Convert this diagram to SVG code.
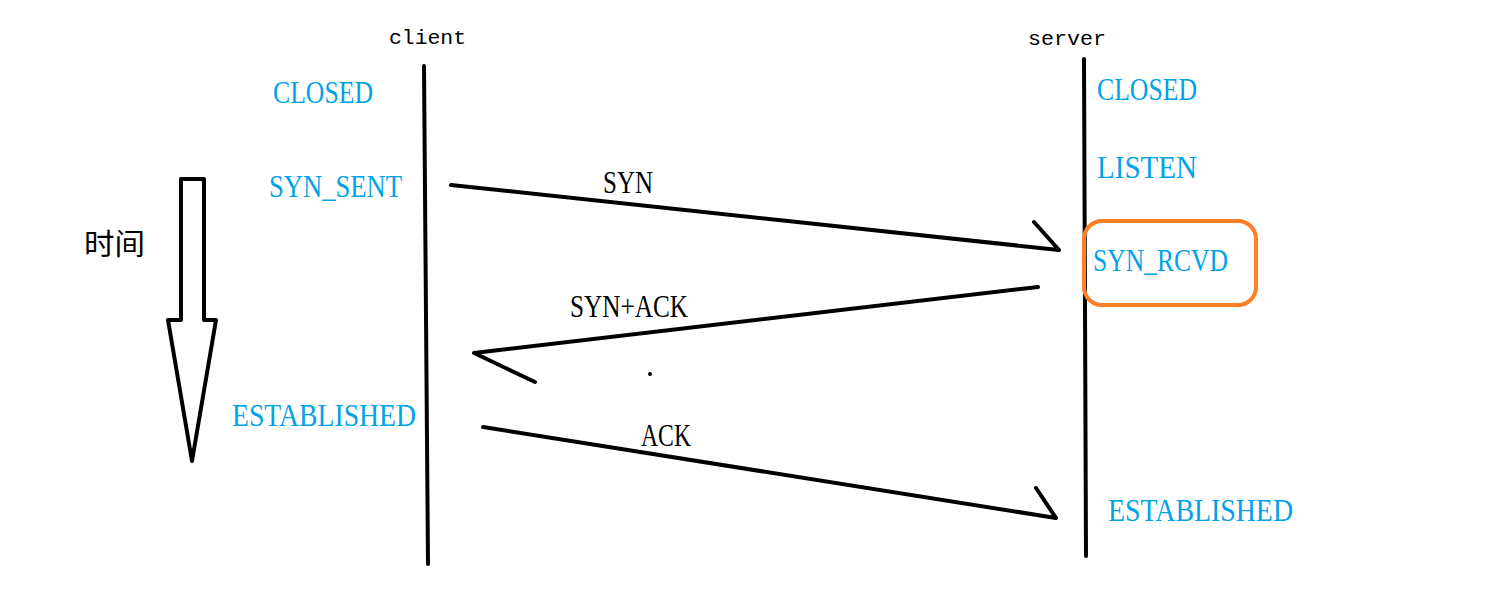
<svg xmlns="http://www.w3.org/2000/svg" width="1505" height="589" viewBox="0 0 1505 589">
<style>
.state{font-family:"Liberation Serif","DejaVu Serif",serif;font-size:31px;fill:#00a2e8}
.lbl{font-family:"Liberation Serif","DejaVu Serif",serif;font-size:31px;fill:#000}
.host{font-family:"Liberation Mono","DejaVu Sans Mono",monospace;font-size:20px;fill:#000}
.ln{stroke:#000;stroke-width:4;fill:none;stroke-linecap:round;stroke-linejoin:round}
</style>
<rect width="1505" height="589" fill="#fff"/>
<g id="client">
<text class="host" x="389" y="44" textLength="77" lengthAdjust="spacingAndGlyphs">client</text>
<line class="ln" x1="424" y1="66" x2="428" y2="564"/>
</g>
<g id="server">
<text class="host" x="1028" y="45" textLength="78" lengthAdjust="spacingAndGlyphs">server</text>
<line class="ln" x1="1084" y1="59" x2="1086" y2="556"/>
</g>
<g id="client-states">
<text class="state" x="273" y="103" textLength="100" lengthAdjust="spacingAndGlyphs">CLOSED</text>
<text class="state" x="269" y="197" textLength="133" lengthAdjust="spacingAndGlyphs">SYN_SENT</text>
<text class="state" x="232" y="426" textLength="184" lengthAdjust="spacingAndGlyphs">ESTABLISHED</text>
</g>
<g id="server-states">
<text class="state" x="1097" y="100" textLength="100" lengthAdjust="spacingAndGlyphs">CLOSED</text>
<text class="state" x="1097" y="178" textLength="100" lengthAdjust="spacingAndGlyphs">LISTEN</text>
<text class="state" x="1108" y="521" textLength="185" lengthAdjust="spacingAndGlyphs">ESTABLISHED</text>
</g>
<g id="syn-rcvd">
<rect x="1084" y="221" width="172" height="84" rx="18" fill="none" stroke="#ff7f27" stroke-width="4"/>
<text class="state" x="1093" y="271" textLength="135" lengthAdjust="spacingAndGlyphs">SYN_RCVD</text>
</g>
<g id="time">
<path class="ln" d="M181 179 H204 V320 H216 L192 461 L168 320 H181 Z"/>
<text x="84" y="255" font-family="'Noto Sans CJK SC',sans-serif" font-size="29" fill="#000" textLength="61" lengthAdjust="spacingAndGlyphs">时间</text>
</g>
<g id="connectors">
<path class="ln" d="M451 185 L1059 250 M1034 222 L1059 250"/>
<path class="ln" d="M1038 287 L474 353 L535 382"/>
<path class="ln" d="M483 427 L1056 518 M1036 488 L1056 518"/>
<circle cx="650" cy="374" r="2" fill="#000"/>
<text class="lbl" x="603" y="193" textLength="50" lengthAdjust="spacingAndGlyphs">SYN</text>
<text class="lbl" x="570" y="317" textLength="118" lengthAdjust="spacingAndGlyphs">SYN+ACK</text>
<text class="lbl" x="641" y="446" textLength="50" lengthAdjust="spacingAndGlyphs">ACK</text>
</g>
</svg>
